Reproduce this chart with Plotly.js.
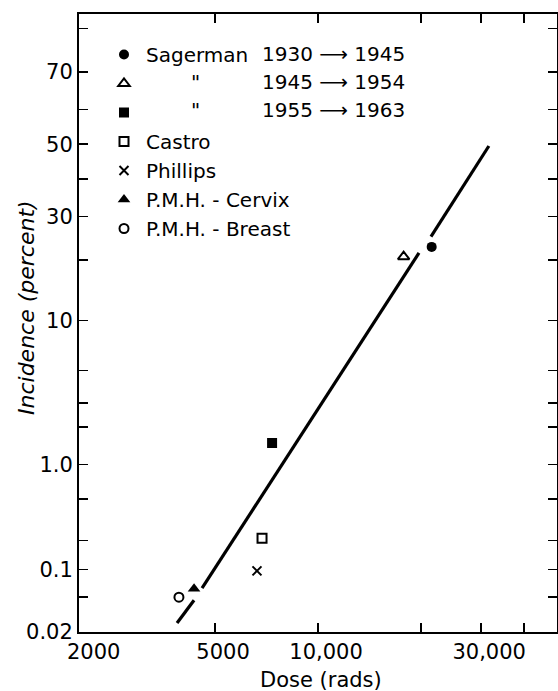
<!DOCTYPE html>
<html>
<head>
<meta charset="utf-8">
<script src="https://cdn.plot.ly/plotly-3.0.1.min.js"></script>
<style>html,body{margin:0;padding:0;background:#fff;}#chart{width:558px;height:691px;}</style>
</head>
<body>
<div id="chart"></div>
<script>
// ---- data (dose in rads, incidence in percent) ----
const seriesNames = ["Sagerman", "\u00a0", "\u00a0", "Castro", "Phillips", "P.M.H. - Cervix", "P.M.H. - Breast"];
const dittoMark = "\"";
const seriesPeriods = ["1930 \u27F6 1945", "1945 \u27F6 1954", "1955 \u27F6 1963"];
const sagerman1930Dose = [21500];
const sagerman1930Inc = [22.8];
const sagerman1945Dose = [17800];
const sagerman1945Inc = [20.7];
const sagerman1955Dose = [7340];
const sagerman1955Inc = [1.5];
const castroDose = [6860];
const castroInc = [0.21];
const phillipsDose = [6630];
const phillipsInc = [0.097];
const cervixDose = [4340];
const cervixInc = [0.062];
const breastDose = [3920];
const breastInc = [0.05];
// fitted line, drawn in broken segments (null = gap)
const fitDose = [3870, 4340, null, 4580, 19740, null, 21400, 31600];
const fitInc = [0.0253, 0.0463, null, 0.063, 21.5, null, 25.1, 49.5];
// axis ticks
const xTickVals = [2000, 5000, 10000, 20000, 30000, 40000];
const xTickText = ["\u00a0\u00a02000", "5000", "10,000", "", "30,000", ""];
const yTickPct = [0.02, 0.05, 0.1, 0.2, 0.5, 1, 2, 3, 5, 10, 20, 30, 40, 50, 60, 70, 80];
const yTickText = ["0.02", "", "0.1", "", "", "1.0", "", "", "", "10", "", "30", "", "50", "", "70", ""];
const xRangeDose = [2000, 50000];
const yRangePct = [0.02, 82.8];

// inverse normal CDF (Acklam) -> probability (probit) scale
function probit(p) {
  const a = [-3.969683028665376e+01, 2.209460984245205e+02, -2.759285104469687e+02, 1.383577518672690e+02, -3.066479806614716e+01, 2.506628277459239e+00];
  const b = [-5.447609879822406e+01, 1.615858368580409e+02, -1.556989798598866e+02, 6.680131188771972e+01, -1.328068155288572e+01];
  const c = [-7.784894002430293e-03, -3.223964580411365e-01, -2.400758277161838e+00, -2.549732539343734e+00, 4.374664141464968e+00, 2.938163982698783e+00];
  const d = [7.784695709041462e-03, 3.224671290700398e-01, 2.445134137142996e+00, 3.754408661907416e+00];
  const pl = 0.02425, ph = 1 - pl;
  let q, r;
  if (p < pl) {
    q = Math.sqrt(-2 * Math.log(p));
    return (((((c[0]*q+c[1])*q+c[2])*q+c[3])*q+c[4])*q+c[5]) / ((((d[0]*q+d[1])*q+d[2])*q+d[3])*q+1);
  } else if (p <= ph) {
    q = p - 0.5; r = q * q;
    return (((((a[0]*r+a[1])*r+a[2])*r+a[3])*r+a[4])*r+a[5])*q / (((((b[0]*r+b[1])*r+b[2])*r+b[3])*r+b[4])*r+1);
  } else {
    q = Math.sqrt(-2 * Math.log(1 - p));
    return -(((((c[0]*q+c[1])*q+c[2])*q+c[3])*q+c[4])*q+c[5]) / ((((d[0]*q+d[1])*q+d[2])*q+d[3])*q+1);
  }
}
const pr = arr => arr.map(v => (v === null ? null : probit(v / 100)));

// layout geometry helpers (pixels -> paper)
const W = 558, H = 691, ML = 79, MR = 1, MT = 14, MB = 59;
const PW = W - ML - MR, PH = H - MT - MB;
const px = x => (x - ML) / PW;
const py = y => (H - MB - y) / PH;

const FONT = "DejaVu Sans";
function pts(name, xs, ys, marker) {
  return { type: "scatter", mode: "markers", name: name, x: xs, y: pr(ys),
    marker: Object.assign({ color: "black", size: 10 }, marker), hoverinfo: "skip" };
}
const traces = [
  { type: "scatter", mode: "lines", x: fitDose, y: pr(fitInc), connectgaps: false,
    line: { color: "black", width: 3.2 }, showlegend: false, hoverinfo: "skip" },
  pts(seriesNames[0], sagerman1930Dose, sagerman1930Inc, { symbol: "circle", size: 10 }),
  pts(seriesNames[1], sagerman1945Dose, sagerman1945Inc, { symbol: "triangle-up-open", size: 10, line: { width: 2, color: "black" } }),
  pts(seriesNames[2], sagerman1955Dose, sagerman1955Inc, { symbol: "square", size: 10 }),
  pts(seriesNames[3], castroDose, castroInc, { symbol: "square-open", size: 9, line: { width: 2, color: "black" } }),
  pts(seriesNames[4], phillipsDose, phillipsInc, { symbol: "x-thin-open", size: 9, line: { width: 2, color: "black" } }),
  pts(seriesNames[5], cervixDose, cervixInc, { symbol: "triangle-up", size: 11 }),
  pts(seriesNames[6], breastDose, breastInc, { symbol: "circle-open", size: 9, line: { width: 2, color: "black" } })
];

const ann = [
  { text: "Incidence (percent)", x: px(26), y: py(308), textangle: -90, font: { family: FONT, size: 22, style: "italic", color: "black" } },
  { text: "Dose (rads)", x: px(321), y: py(680), font: { family: FONT, size: 21, color: "black" } },
  { text: dittoMark, x: px(195), y: py(82), font: { family: FONT, size: 20, color: "black" } },
  { text: dittoMark, x: px(195), y: py(110), font: { family: FONT, size: 20, color: "black" } },
  { text: seriesPeriods[0], x: px(260), y: py(54), xanchor: "left", font: { family: FONT, size: 20, color: "black" } },
  { text: seriesPeriods[1], x: px(260), y: py(82), xanchor: "left", font: { family: FONT, size: 20, color: "black" } },
  { text: seriesPeriods[2], x: px(260), y: py(110), xanchor: "left", font: { family: FONT, size: 20, color: "black" } }
].map(a => Object.assign({ xref: "paper", yref: "paper", showarrow: false, xanchor: "center", yanchor: "middle" }, a));

const layout = {
  width: W, height: H,
  margin: { l: ML, r: MR, t: MT, b: MB, pad: 0 },
  paper_bgcolor: "white", plot_bgcolor: "white",
  font: { family: FONT, size: 21, color: "black" },
  showlegend: true,
  legend: { x: px(102), y: py(35), xanchor: "left", yanchor: "top", bgcolor: "rgba(0,0,0,0)",
    font: { family: FONT, size: 20, color: "black" }, traceorder: "normal", itemwidth: 34 },
  xaxis: {
    type: "log", range: xRangeDose.map(Math.log10),
    tickmode: "array", tickvals: xTickVals, ticktext: xTickText,
    ticks: "inside", ticklen: 9, tickwidth: 1.6, tickcolor: "black",
    ticklabelshift: 8,
    showline: true, linewidth: 2, linecolor: "black", mirror: "ticks",
    showgrid: false, zeroline: false, fixedrange: true
  },
  yaxis: {
    type: "linear", range: [probit(yRangePct[0] / 100) - 0.003, probit(yRangePct[1] / 100)],
    tickmode: "array", tickvals: pr(yTickPct), ticktext: yTickText,
    ticks: "inside", ticklen: 9, tickwidth: 1.6, tickcolor: "black",
    showline: true, linewidth: 2, linecolor: "black", mirror: "ticks",
    showgrid: false, zeroline: false, fixedrange: true
  },
  annotations: ann
};

Plotly.newPlot("chart", traces, layout, { displayModeBar: false, staticPlot: true });
</script>
</body>
</html>
